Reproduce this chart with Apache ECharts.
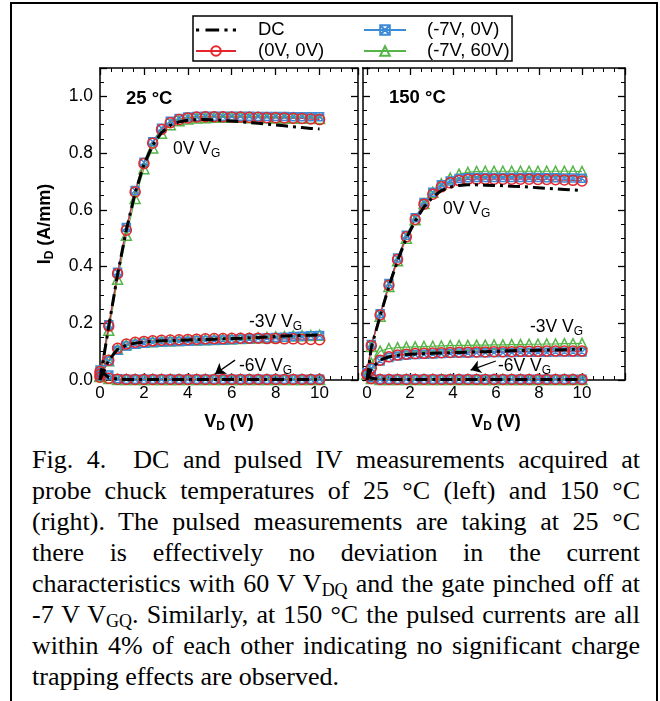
<!DOCTYPE html>
<html>
<head>
<meta charset="utf-8">
<title>Fig. 4 DC and pulsed IV</title>
<script src="https://cdn.jsdelivr.net/npm/echarts@6/dist/echarts.min.js"></script>
<style>
  html, body { margin: 0; padding: 0; background: #fff; }
  .page { position: relative; width: 660px; height: 701px; overflow: hidden; }
  .frame { position: absolute; left: 10px; top: 2px; width: 644px; height: 760px; border: 2px solid #000; }
  #chart { position: absolute; left: 0; top: 0; width: 660px; height: 440px; }
  .caption {
    position: absolute; left: 32px; top: 444px; width: 608px;
    font-family: "Liberation Serif", "Times New Roman", serif;
    font-size: 26px; line-height: 31px; color: #000;
  }
  .caption div { text-align: justify; text-align-last: justify; }
  .caption div.last { text-align-last: left; }
  .caption sub { font-size: 18px; line-height: 0; vertical-align: -4px; }
</style>
</head>
<body>
<div class="page">
  <div class="frame"></div>
  <div id="chart"></div>
  <div class="caption">
    <div>Fig. 4.&nbsp; DC and pulsed IV measurements acquired at</div>
    <div>probe chuck temperatures of 25 °C (left) and 150 °C</div>
    <div>(right). The pulsed measurements are taking at 25 °C</div>
    <div>there is effectively no deviation in the current</div>
    <div>characteristics with 60 V V<sub>DQ</sub> and the gate pinched off at</div>
    <div>-7 V V<sub>GQ</sub>. Similarly, at 150 °C the pulsed currents are all</div>
    <div>within 4% of each other indicating no significant charge</div>
    <div class="last">trapping effects are observed.</div>
  </div>
</div>
<script>
// drain voltage steps (V)
const vd25 = [0, 0.4, 0.8, 1.2, 1.6, 2, 2.4, 2.8, 3.2, 3.6, 4, 4.4, 4.8, 5.2, 5.6, 6, 6.4, 6.8, 7.2, 7.6, 8, 8.4, 8.8, 9.2, 9.6, 10];
const vd150 = [0, 0.2, 0.61, 1.02, 1.42, 1.83, 2.24, 2.65, 3.06, 3.46, 3.87, 4.28, 4.69, 5.1, 5.5, 5.91, 6.32, 6.73, 7.14, 7.54, 7.95, 8.36, 8.77, 9.18, 9.58, 10];

// 25 °C  (A/mm)
const dc25g0 = [0, 0.19, 0.372, 0.53, 0.66, 0.76, 0.828, 0.872, 0.898, 0.91, 0.916, 0.918, 0.918, 0.917, 0.915, 0.913, 0.911, 0.908, 0.905, 0.902, 0.899, 0.896, 0.893, 0.89, 0.887, 0.885];
const a25g0 = [0.02, 0.19, 0.375, 0.528, 0.663, 0.763, 0.835, 0.883, 0.907, 0.918, 0.924, 0.927, 0.928, 0.928, 0.928, 0.927, 0.927, 0.926, 0.926, 0.925, 0.925, 0.924, 0.923, 0.922, 0.92, 0.918];
const b25g0 = [0.025, 0.195, 0.38, 0.538, 0.668, 0.768, 0.84, 0.888, 0.912, 0.922, 0.927, 0.929, 0.93, 0.93, 0.93, 0.93, 0.93, 0.93, 0.929, 0.929, 0.929, 0.929, 0.928, 0.928, 0.928, 0.928];
const c25g0 = [0.015, 0.175, 0.355, 0.51, 0.64, 0.745, 0.818, 0.87, 0.9, 0.914, 0.92, 0.924, 0.925, 0.926, 0.926, 0.926, 0.926, 0.925, 0.925, 0.925, 0.924, 0.924, 0.924, 0.923, 0.923, 0.922];

const dc25g3 = [0, 0.07, 0.108, 0.123, 0.13, 0.134, 0.136, 0.138, 0.139, 0.14, 0.141, 0.142, 0.143, 0.144, 0.145, 0.146, 0.147, 0.149, 0.15, 0.152, 0.153, 0.155, 0.156, 0.157, 0.158, 0.159];
const a25g3 = [0.01, 0.07, 0.112, 0.127, 0.133, 0.136, 0.138, 0.14, 0.141, 0.142, 0.143, 0.144, 0.145, 0.146, 0.146, 0.147, 0.147, 0.147, 0.147, 0.146, 0.146, 0.145, 0.145, 0.144, 0.143, 0.142];
const b25g3 = [0.015, 0.066, 0.105, 0.12, 0.126, 0.13, 0.132, 0.134, 0.135, 0.136, 0.137, 0.138, 0.139, 0.14, 0.141, 0.142, 0.144, 0.145, 0.147, 0.148, 0.15, 0.151, 0.153, 0.154, 0.156, 0.157];
const c25g3 = [0.012, 0.068, 0.108, 0.124, 0.13, 0.133, 0.135, 0.137, 0.138, 0.139, 0.14, 0.141, 0.142, 0.143, 0.144, 0.145, 0.146, 0.147, 0.149, 0.15, 0.152, 0.153, 0.155, 0.156, 0.157, 0.158];

const dc25g6 = [0.035, 0.008, 0.003, 0.002, 0.002, 0.002, 0.002, 0.002, 0.002, 0.002, 0.002, 0.002, 0.002, 0.002, 0.002, 0.002, 0.002, 0.002, 0.002, 0.002, 0.002, 0.002, 0.002, 0.002, 0.002, 0.002];
const a25g6 = [0.03, 0.006, 0.003, 0.002, 0.002, 0.002, 0.002, 0.002, 0.002, 0.002, 0.002, 0.002, 0.002, 0.002, 0.002, 0.002, 0.002, 0.002, 0.002, 0.002, 0.002, 0.002, 0.002, 0.002, 0.002, 0.002];
const b25g6 = [0.035, 0.018, 0.004, 0.003, 0.003, 0.003, 0.003, 0.003, 0.003, 0.003, 0.003, 0.003, 0.003, 0.003, 0.003, 0.003, 0.003, 0.003, 0.003, 0.003, 0.003, 0.003, 0.003, 0.003, 0.003, 0.003];
const c25g6 = [0.03, 0.005, 0.002, 0.002, 0.002, 0.002, 0.002, 0.002, 0.002, 0.002, 0.002, 0.002, 0.002, 0.002, 0.002, 0.002, 0.002, 0.002, 0.002, 0.002, 0.002, 0.002, 0.002, 0.002, 0.002, 0.002];

// 150 °C  (A/mm)
const dc150g0 = [0, 0.115, 0.225, 0.33, 0.42, 0.5, 0.56, 0.61, 0.645, 0.668, 0.68, 0.686, 0.688, 0.688, 0.687, 0.686, 0.685, 0.683, 0.682, 0.68, 0.678, 0.676, 0.674, 0.672, 0.67, 0.668];
const a150g0 = [0.02, 0.121, 0.229, 0.334, 0.425, 0.505, 0.566, 0.62, 0.655, 0.681, 0.695, 0.703, 0.707, 0.708, 0.708, 0.708, 0.708, 0.708, 0.708, 0.708, 0.707, 0.707, 0.706, 0.705, 0.704, 0.702];
const b150g0 = [0.025, 0.125, 0.234, 0.34, 0.43, 0.51, 0.572, 0.626, 0.662, 0.688, 0.702, 0.71, 0.713, 0.714, 0.714, 0.714, 0.714, 0.714, 0.714, 0.714, 0.714, 0.713, 0.713, 0.712, 0.712, 0.711];
const c150g0 = [0.02, 0.118, 0.225, 0.33, 0.42, 0.5, 0.565, 0.622, 0.662, 0.692, 0.712, 0.726, 0.732, 0.735, 0.736, 0.736, 0.736, 0.736, 0.736, 0.736, 0.736, 0.736, 0.736, 0.736, 0.736, 0.735];

const dc150g3 = [0, 0.04, 0.07, 0.082, 0.087, 0.09, 0.092, 0.093, 0.094, 0.095, 0.096, 0.097, 0.098, 0.099, 0.1, 0.101, 0.102, 0.103, 0.104, 0.104, 0.105, 0.106, 0.106, 0.107, 0.108, 0.108];
const a150g3 = [0.02, 0.042, 0.07, 0.082, 0.088, 0.091, 0.093, 0.094, 0.095, 0.096, 0.097, 0.098, 0.098, 0.099, 0.099, 0.1, 0.1, 0.1, 0.101, 0.101, 0.101, 0.102, 0.102, 0.102, 0.102, 0.102];
const b150g3 = [0.025, 0.04, 0.067, 0.079, 0.085, 0.088, 0.09, 0.091, 0.092, 0.093, 0.094, 0.095, 0.095, 0.096, 0.096, 0.097, 0.097, 0.097, 0.098, 0.098, 0.098, 0.098, 0.099, 0.099, 0.099, 0.099];
const c150g3 = [0.02, 0.06, 0.102, 0.111, 0.114, 0.116, 0.117, 0.118, 0.119, 0.12, 0.121, 0.122, 0.122, 0.123, 0.123, 0.124, 0.124, 0.125, 0.125, 0.126, 0.126, 0.127, 0.127, 0.128, 0.128, 0.129];

const dc150g6 = [0.02, 0.006, 0.003, 0.002, 0.002, 0.002, 0.002, 0.002, 0.002, 0.002, 0.002, 0.002, 0.002, 0.002, 0.002, 0.002, 0.002, 0.002, 0.002, 0.002, 0.002, 0.002, 0.002, 0.002, 0.002, 0.002];
const a150g6 = [0.02, 0.005, 0.002, 0.002, 0.002, 0.002, 0.002, 0.002, 0.002, 0.002, 0.002, 0.002, 0.002, 0.002, 0.002, 0.002, 0.002, 0.002, 0.002, 0.002, 0.002, 0.002, 0.002, 0.002, 0.002, 0.002];
const b150g6 = [0.025, 0.008, 0.003, 0.003, 0.003, 0.003, 0.003, 0.003, 0.003, 0.003, 0.003, 0.003, 0.003, 0.003, 0.003, 0.003, 0.003, 0.003, 0.003, 0.003, 0.003, 0.003, 0.003, 0.003, 0.003, 0.003];
const c150g6 = [0.02, 0.005, 0.002, 0.002, 0.002, 0.002, 0.002, 0.002, 0.002, 0.002, 0.002, 0.002, 0.002, 0.002, 0.002, 0.002, 0.002, 0.002, 0.002, 0.002, 0.002, 0.002, 0.002, 0.002, 0.002, 0.002];

const seriesNames = ['DC', '(0V, 0V)', '(-7V, 0V)', '(-7V, 60V)'];
const xTicks = [0, 2, 4, 6, 8, 10];
const yTicks = [0, 0.2, 0.4, 0.6, 0.8, 1.0];

// arrows pointing at the -6V curves, in data units [from, to]
const arrow25 = [[6.15, 0.07], [5.24, 0.021]];
const arrow150 = [[5.99, 0.067], [4.82, 0.035]];

const FONT = '"Liberation Sans", Arial, sans-serif';

const styles = {
  'DC': { color: '#000', symbol: 'none', size: 0, width: 3, type: [12, 5, 3, 5] },
  '(0V, 0V)': { color: '#e3262b', symbol: 'circle', size: 10 },
  '(-7V, 0V)': { color: '#3d8bd6', symbol: 'path://M0 0H10V10H0Z M0 0L10 10 M10 0L0 10', size: 8 },
  '(-7V, 60V)': { color: '#55b548', symbol: 'triangle', size: 10 }
};

// drawing order: green, blue, red, then DC on top
const curves = [
  ['(-7V, 60V)', 0, vd25, [c25g0, c25g3, c25g6]],
  ['(-7V, 0V)', 0, vd25, [b25g0, b25g3, b25g6]],
  ['(0V, 0V)', 0, vd25, [a25g0, a25g3, a25g6]],
  ['DC', 0, vd25, [dc25g0, dc25g3, dc25g6], arrow25],
  ['(-7V, 60V)', 1, vd150, [c150g0, c150g3, c150g6]],
  ['(-7V, 0V)', 1, vd150, [b150g0, b150g3, b150g6]],
  ['(0V, 0V)', 1, vd150, [a150g0, a150g3, a150g6]],
  ['DC', 1, vd150, [dc150g0, dc150g3, dc150g6], arrow150]
];

const series = [];
curves.forEach(([name, g, vd, sets, arrow]) => {
  const s = styles[name];
  sets.forEach((ids, k) => {
    const item = {
      name: name,
      type: 'line',
      xAxisIndex: g * 2,
      yAxisIndex: g * 2,
      data: vd.map((v, i) => [v, ids[i]]),
      symbol: s.symbol,
      symbolSize: s.size,
      showSymbol: s.symbol !== 'none',
      lineStyle: { color: s.color, width: s.width || 1.2, type: s.type || 'solid' },
      itemStyle: { color: 'rgba(255,255,255,0)', borderColor: s.color, borderWidth: 1.5 },
      emphasis: { disabled: true },
      silent: true,
      clip: true,
      z: name === 'DC' ? 4 : 3
    };
    if (arrow && k === 2) {
      item.markLine = {
        silent: true,
        symbol: ['none', 'arrow'],
        symbolSize: 10,
        label: { show: false },
        emphasis: { disabled: true },
        lineStyle: { color: '#000', width: 1.3, type: 'solid' },
        data: [[{ coord: arrow[0] }, { coord: arrow[1] }]]
      };
    }
    series.push(item);
  });
});

const tickCommon = {
  axisLine: { onZero: false, lineStyle: { color: '#000', width: 1.5 } },
  axisTick: { inside: true, length: 7, lineStyle: { color: '#000', width: 1.3 } },
  minorTick: { show: true, splitNumber: 4, length: 4, lineStyle: { color: '#000', width: 1 } },
  splitLine: { show: false },
  minorSplitLine: { show: false }
};

const xLabel = {
  fontSize: 17, fontFamily: FONT, color: '#000', margin: 5,
  formatter: (v) => (xTicks.indexOf(v) >= 0 ? String(v) : '')
};
const yLabel = {
  fontSize: 17.5, fontFamily: FONT, color: '#000', margin: 7,
  formatter: (v) => (yTicks.some((t) => Math.abs(t - v) < 1e-9) ? v.toFixed(1) : '')
};
const sub = { fontSize: 12, fontFamily: FONT, fontWeight: 'bold', verticalAlign: 'bottom', lineHeight: 14 };
const nameStyle = { fontSize: 18, fontWeight: 'bold', fontFamily: FONT, color: '#000', lineHeight: 22, rich: { s: sub } };

const gridsPx = [
  { left: 100, top: 68, width: 258, height: 312 },
  { left: 367, top: 68, width: 258, height: 312 }
];
const xMax = [11.75, 12];

const xAxis = [];
const yAxis = [];
[0, 1].forEach((g) => {
  xAxis.push(Object.assign({}, tickCommon, {
    type: 'value', gridIndex: g, position: 'bottom', min: 0, max: xMax[g], interval: 2,
    axisLabel: xLabel,
    name: 'V{s|D} (V)', nameLocation: 'middle', nameGap: 31, nameTextStyle: nameStyle
  }));
  xAxis.push(Object.assign({}, tickCommon, {
    type: 'value', gridIndex: g, position: 'top', min: 0, max: xMax[g], interval: 2,
    axisLabel: { show: false }
  }));
  const left = Object.assign({}, tickCommon, {
    type: 'value', gridIndex: g, position: 'left', min: 0, max: 1.1, interval: 0.2,
    axisLabel: g === 0 ? yLabel : { show: false },
    offset: g === 0 ? 0 : 4
  });
  if (g === 0) {
    left.name = 'I{s|D} (A/mm)';
    left.nameLocation = 'middle';
    left.nameGap = 44;
    left.nameTextStyle = nameStyle;
  }
  yAxis.push(left);
  yAxis.push(Object.assign({}, tickCommon, {
    type: 'value', gridIndex: g, position: 'right', min: 0, max: 1.1, interval: 0.2,
    axisLabel: { show: false }
  }));
});

const subG = { fontSize: 12, fontFamily: FONT, fill: '#000', verticalAlign: 'bottom', lineHeight: 14 };
function note(text, x, y, bold) {
  return {
    type: 'text', x: x, y: y, silent: true, z: 10,
    style: {
      text: text, fill: '#000', fontSize: bold ? 18.5 : 17.5, fontWeight: bold ? 'bold' : 'normal',
      fontFamily: FONT, lineHeight: 22, verticalAlign: 'middle', align: 'left',
      rich: { s: subG }
    }
  };
}

const legendText = { fontSize: 18.5, fontFamily: FONT, color: '#000', lineHeight: 20 };
// dash-dot sample for the DC entry
const dcIcon = 'path://M0 0H3V3H0Z M9 0H22V3H9Z M27 0H30V3H27Z M35 0H38V3H35Z';

const option = {
  animation: false,
  backgroundColor: 'transparent',
  grid: gridsPx.map((p) => Object.assign({ containLabel: false }, p)),
  xAxis: xAxis,
  yAxis: yAxis,
  legend: [
    {
      left: 195, top: 20, orient: 'vertical', padding: 0, itemGap: 1,
      itemWidth: 40, itemHeight: 12, selectedMode: false,
      data: [
        { name: seriesNames[0], icon: dcIcon, itemStyle: { color: '#000', borderWidth: 0 } },
        seriesNames[1]
      ],
      textStyle: Object.assign({ padding: [0, 0, 0, 17] }, legendText)
    },
    {
      left: 363, top: 20, orient: 'vertical', padding: 0, itemGap: 1,
      itemWidth: 42, itemHeight: 12, selectedMode: false,
      data: [seriesNames[2], seriesNames[3]],
      textStyle: Object.assign({ padding: [0, 0, 0, 16] }, legendText)
    }
  ],
  graphic: [
    { type: 'rect', shape: { x: 193, y: 16, width: 319, height: 45 }, style: { fill: 'none', stroke: '#000', lineWidth: 1.5 }, silent: true, z: 10 },
    { type: 'line', shape: { x1: 362, y1: 68, x2: 368, y2: 68 }, style: { stroke: '#000', lineWidth: 1.5 }, silent: true },
    { type: 'line', shape: { x1: 362, y1: 380, x2: 368, y2: 380 }, style: { stroke: '#000', lineWidth: 1.5 }, silent: true },
    note('25 °C', 126, 99, true),
    note('150 °C', 389, 98, true),
    note('0V V{s|G}', 173, 149),
    note('-3V V{s|G}', 249, 322),
    note('-6V V{s|G}', 239, 366),
    note('0V V{s|G}', 443, 209),
    note('-3V V{s|G}', 530, 327),
    note('-6V V{s|G}', 498, 366)
  ],
  series: series
};

const chart = echarts.init(document.getElementById('chart'), null, { renderer: 'canvas' });
chart.setOption(option);
</script>
</body>
</html>
